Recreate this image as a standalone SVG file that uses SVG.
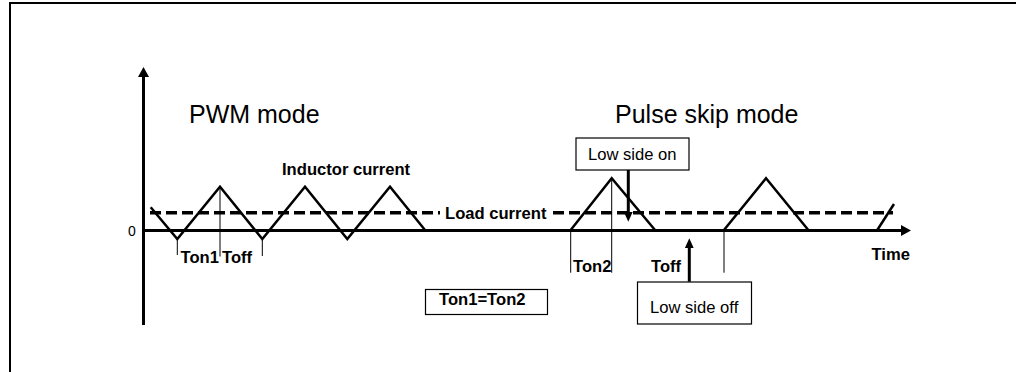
<svg xmlns="http://www.w3.org/2000/svg" width="1016" height="372" viewBox="0 0 1016 372">
<style>
.frame{stroke:#000;stroke-width:2;fill:none}
.axis{stroke:#000;stroke-width:3;fill:none}
.wave{stroke:#000;stroke-width:2.5;fill:none;stroke-linejoin:miter}
.dash{stroke:#000;stroke-width:3.5;fill:none;stroke-dasharray:11 5}
.tick{stroke:#000;stroke-width:1;fill:none}
.ptr{stroke:#000;stroke-width:3;fill:none}
.box{fill:#fff;stroke:#000;stroke-width:1.2}
.big{font-family:"Liberation Sans",Arial,sans-serif;font-size:25px;fill:#000}
.lbl{font-family:"Liberation Sans",Arial,sans-serif;font-size:16.6px;font-weight:bold;fill:#000}
.reg{font-family:"Liberation Sans",Arial,sans-serif;font-size:16.6px;fill:#000}
.zero{font-family:"Liberation Sans",Arial,sans-serif;font-size:14px;fill:#000}
</style>
<defs>
<marker id="ah" markerUnits="userSpaceOnUse" markerWidth="10" markerHeight="11" refX="3" refY="5.5" orient="auto">
<path d="M0,0 L10,5.5 L0,11 z" fill="#000"/>
</marker>
<marker id="sh" markerUnits="userSpaceOnUse" markerWidth="10" markerHeight="9" refX="3" refY="4.5" orient="auto">
<path d="M0,0 L10,4.5 L0,9 z" fill="#000"/>
</marker>
</defs>
<rect width="1016" height="372" fill="#fff"/>
<path class="frame" d="M10,372 V3 H1016"/>
<g id="connectors">
<line class="axis" x1="143.5" y1="325" x2="143.5" y2="74" marker-end="url(#ah)"/>
<line class="axis" x1="142" y1="230.5" x2="904" y2="230.5" marker-end="url(#ah)"/>
<path class="dash" d="M150,212.7 H440 M553,212.7 H893"/>
<polyline class="wave" points="150.7,207.3 177.3,239 220,186.7 262.3,239 305,186.7 347.3,239 390,186.7 425,230"/>
<polyline class="wave" points="570.7,230 611.7,178.3 655,230"/>
<polyline class="wave" points="724,230 766,178.3 808.3,230"/>
<polyline class="wave" points="877.3,230 894,204"/>
<path class="tick" d="M177.3,239 V255 M220,186.7 V256.5 M262.3,239 V256 M570.7,230 V272.7 M611.7,178.3 V272.7 M724,230 V272.7"/>
<line class="ptr" x1="628.3" y1="170" x2="628.3" y2="214.7" marker-end="url(#sh)"/>
<line class="ptr" x1="689.3" y1="281.7" x2="689.3" y2="245.3" marker-end="url(#sh)"/>
</g>
<g id="title-pwm"><text class="big" x="189" y="123">PWM mode</text></g>
<g id="title-skip"><text class="big" x="615" y="123">Pulse skip mode</text></g>
<g id="inductor-current"><text class="lbl" x="282" y="174.5">Inductor current</text></g>
<g id="load-current"><text class="lbl" x="445" y="219">Load current</text></g>
<g id="zero"><text class="zero" x="128" y="236">0</text></g>
<g id="ton1"><text class="lbl" x="180.5" y="263">Ton1</text></g>
<g id="toff1"><text class="lbl" x="222" y="263">Toff</text></g>
<g id="ton2"><text class="lbl" x="573" y="271.5">Ton2</text></g>
<g id="toff2"><text class="lbl" x="651" y="271.5">Toff</text></g>
<g id="time"><text class="lbl" x="871.5" y="260">Time</text></g>
<g id="ton-eq">
<rect class="box" x="425.5" y="289.5" width="122" height="25"/>
<text class="lbl" x="439" y="305">Ton1=Ton2</text>
</g>
<g id="low-side-on">
<rect class="box" x="576" y="138" width="113" height="32"/>
<text class="reg" x="588" y="160">Low side on</text>
</g>
<g id="low-side-off">
<rect class="box" x="637.5" y="282" width="114" height="42"/>
<text class="reg" x="650" y="312.5">Low side off</text>
</g>
</svg>
